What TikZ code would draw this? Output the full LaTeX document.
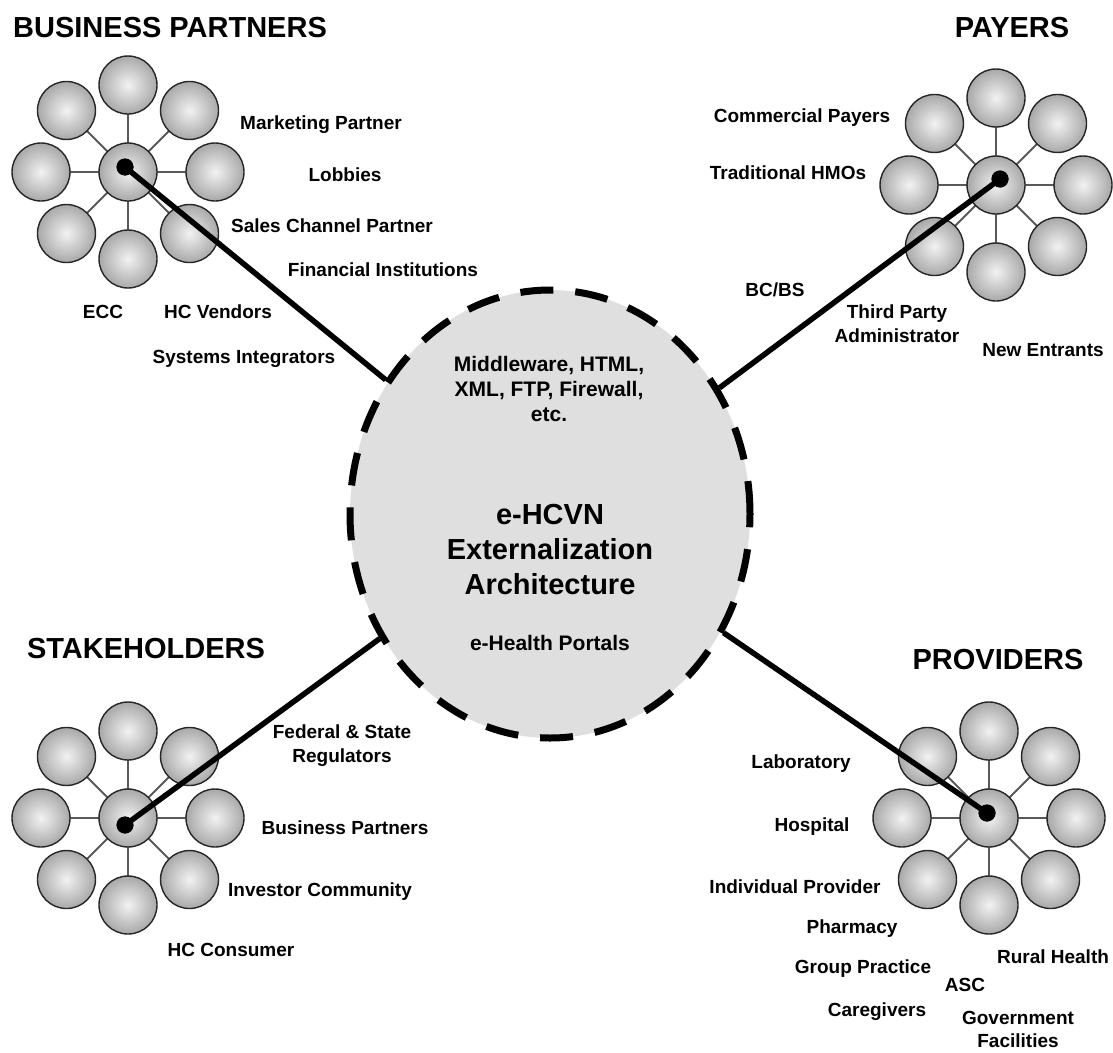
\documentclass[tikz,border=0pt]{standalone}
\usepackage{fontspec}
\setmainfont{Liberation Sans}
\usepackage{tikz}
\usetikzlibrary{shapes.geometric,positioning,calc}
\newcommand{\lblfont}{\fontsize{19}{24}\selectfont\bfseries}
\newcommand{\midfont}{\fontsize{21}{25}\selectfont\bfseries}
\newcommand{\headfont}{\fontsize{29}{35}\selectfont\bfseries}
\tikzset{
  ball/.style={circle, draw=black!85, line width=1.4pt, minimum size=58pt, inner sep=0pt, inner color=gray!10, outer color=gray!68},
  spoke/.style={gray!70!black, line width=2pt},
  hubdot/.style={circle, fill=black, minimum size=17pt, inner sep=0pt},
  link/.style={black, line width=5.5pt},
  lbl/.style={font=\lblfont, align=center, inner sep=0pt},
  midlbl/.style={font=\midfont, align=center, inner sep=0pt},
  head/.style={font=\headfont, inner sep=0pt},
}
% one cluster of nine balls: #1 name, #2 centre
\newcommand{\ballcluster}[2]{%
  \coordinate (#1) at (#2);
  \foreach \a in {0,45,...,315} {
    \draw[spoke] (#1) -- ++(\a:87);
    \node[ball] (#1-\a) at ($(#1)+(\a:87)$) {};
  }
  \node[ball] (#1-c) at (#1) {};
}
\begin{document}
\begin{tikzpicture}[x=1pt, y=-1pt]
\useasboundingbox (0,0) rectangle (1113,1052);

% central hub
\node[ellipse, draw=black, fill=gray!25, line width=7pt, dash pattern=on 33pt off 22pt, minimum width=400pt, minimum height=448pt] (hub) at (550,514) {};
\node[midlbl] (mw) at (549,389) {Middleware, HTML,\\XML, FTP, Firewall,\\etc.};
\node[head, align=center] (title) at (550,550) {e-HCVN\\Externalization\\Architecture};
\node[midlbl] (portals) at (550,643) {e-Health Portals};

% clusters
\ballcluster{bp}{128,172}
\ballcluster{py}{996,185}
\ballcluster{sh}{128,818}
\ballcluster{pv}{989,818}

\node[hubdot] (bpdot) at (125,167) {};
\node[hubdot] (pydot) at (1000,179) {};
\node[hubdot] (shdot) at (125,825) {};
\node[hubdot] (pvdot) at (987,813) {};

\draw[link] (bpdot.center) -- (hub);
\draw[link] (pydot.center) -- (hub);
\draw[link] (shdot.center) -- (hub);
\draw[link] (pvdot.center) -- (hub);
\foreach \d in {bpdot,pydot,shdot,pvdot} \node[hubdot] at (\d) {};

% headings
\node[head, anchor=west] (bphead) at (13,28) {BUSINESS PARTNERS};
\node[head] (pyhead) at (1012,28) {PAYERS};
\node[head] (shhead) at (146,649) {STAKEHOLDERS};
\node[head] (pvhead) at (998,660) {PROVIDERS};

% business partners
\node[lbl] (mkt) at (321,125) {Marketing Partner};
\node[lbl] (lob) at (345,175) {Lobbies};
\node[lbl] (scp) at (332,226) {Sales Channel Partner};
\node[lbl] (fin) at (383,270) {Financial Institutions};
\node[lbl] (ecc) at (103,312) {ECC};
\node[lbl] (hcv) at (218,312) {HC Vendors};
\node[lbl] (sys) at (244,359) {Systems Integrators};

% payers
\node[lbl] (com) at (802,118) {Commercial Payers};
\node[lbl] (hmo) at (788,173) {Traditional HMOs};
\node[lbl] (bcbs) at (775,290) {BC/BS};
\node[lbl] (tpa) at (897,324) {Third Party\\Administrator};
\node[lbl] (new) at (1043,350) {New Entrants};

% stakeholders
\node[lbl] (fed) at (342,746) {Federal \& State\\Regulators};
\node[lbl] (bus) at (345,828) {Business Partners};
\node[lbl] (inv) at (320,892) {Investor Community};
\node[lbl] (hcc) at (231,950) {HC Consumer};

% providers
\node[lbl] (lab) at (801,764) {Laboratory};
\node[lbl] (hos) at (812,827) {Hospital};
\node[lbl] (ind) at (795,887) {Individual Provider};
\node[lbl] (pha) at (852,929) {Pharmacy};
\node[lbl] (grp) at (863,969) {Group Practice};
\node[lbl] (care) at (877,1012) {Caregivers};
\node[lbl] (asc) at (965,985) {ASC};
\node[lbl] (rur) at (1053,957) {Rural Health};
\node[lbl, font=\fontsize{19}{23}\selectfont\bfseries] (gov) at (1018,1029) {Government\\Facilities};
\end{tikzpicture}
\end{document}
